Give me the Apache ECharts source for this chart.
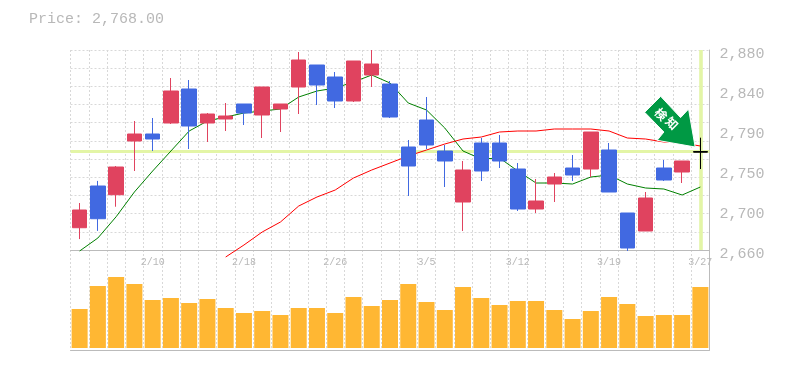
<!DOCTYPE html>
<html><head><meta charset="utf-8">
<style>html,body{margin:0;padding:0;background:#fff}#c{width:785px;height:370px}</style>
<script src="https://cdn.jsdelivr.net/npm/echarts@6/dist/echarts.min.js"></script>
</head><body><div id="c"></div>
<script>
const titleText = 'Price: 2,768.00';
const arrowText = ['検','知'];
const dateLabels = ['','','','','2/10','','','','','2/18','','','','','2/26','','','','','3/5','','','','','3/12','','','','','3/19','','','','','3/27'];
const priceTicks = ['2,660','2,700','2,750','2,790','2,840','2,880'];
const lastPrice = 2768;
const bandLevel = 2768.3;
const opens  = [2684.5,2730.4,2720.8,2779.9,2787.6,2799.7,2837.1,2799.7,2804.1,2820.6,2808.5,2815.1,2839.3,2863.5,2850.3,2823.9,2852.5,2842.6,2773.3,2803,2768.9,2712.8,2777.7,2777.7,2749.1,2705.1,2732.6,2750.2,2749.1,2770,2700.7,2680.9,2750.2,2745.8,2768];
const closes = [2704,2694.4,2751.3,2787.6,2782.1,2834.9,2796.4,2809.6,2807.4,2810.7,2839.3,2820.6,2869,2841.5,2823.9,2867.9,2864.6,2806.3,2752.4,2775.5,2757.9,2748,2746.9,2757.9,2705.1,2713.9,2740.3,2742.5,2789.8,2723.8,2662.2,2717.2,2737,2757.9,2768];
const lows   = [2672,2681,2707.6,2746.9,2768.9,2798.6,2771.1,2778.8,2790.9,2797.5,2783.2,2789.8,2809.6,2819.5,2816.2,2822.8,2839.3,2805.2,2719.4,2771.1,2729.3,2680.9,2735.9,2750.2,2702.9,2700.7,2712.8,2735.9,2740.3,2723.8,2658.9,2680.9,2735.9,2733.7,2749.1];
const highs  = [2711.7,2736,2752.4,2801.9,2805.2,2849.2,2847,2810.7,2821.7,2820.6,2839.3,2820.6,2877.8,2863.5,2855.8,2867.9,2880,2845.9,2781,2828.3,2775.5,2757.9,2783.2,2786.5,2755.7,2738.1,2744.7,2764.5,2789.8,2777.7,2700.7,2723.8,2759,2757.9,2783.4];
const shortAvg = [2658.9,2673.2,2696.6,2723.8,2746.9,2768.9,2790.9,2801.9,2806.3,2810.7,2812.9,2815.1,2828.3,2834.9,2838.2,2844.8,2852.5,2843.7,2821.7,2814,2794.2,2768.9,2760.1,2761.2,2746.9,2733.7,2733.7,2732.6,2740.3,2742.5,2732.6,2728.2,2727.1,2720.5,2729.3];
const longAvg = [null,null,null,null,null,null,null,null,2652.3,2665.5,2679.8,2690.8,2708.4,2718.3,2726,2739.2,2748,2755.7,2763.4,2770,2776.6,2782.1,2784.3,2789.8,2790.9,2790.9,2793.1,2793.1,2793.1,2790.9,2783.2,2782.1,2778.8,2777.7,2774.4];
const volumes = [39,62,71,64,48,50,45,49,40,35,37,33,40,40,35,51,42,48,64,46,38,61,50,43,47,47,38,29,37,51,44,32,33,33,61];

const gridC = '#d8d8d8', axisC = '#bbb', textC = '#b8b8b8', mono = '"Liberation Mono", monospace';
const band = '#e3f5a6';
const chart = echarts.init(document.getElementById('c'), null, {renderer:'canvas'});
const split = {show:true, interval:0, lineStyle:{color:gridC, type:[2,2], width:1}};
const candleData = opens.map((o,i)=>{
  const item = {value:[o,closes[i],lows[i],highs[i]]};
  if (o === closes[i]) item.itemStyle = {borderColorDoji:'#000', borderColor:'#000', borderColor0:'#000'};
  return item;
});
chart.setOption({
  animation:false,
  backgroundColor:'#fff',
  title:{text:titleText, left:24, top:7, textStyle:{fontFamily:mono, fontSize:15, fontWeight:'normal', color:textC}},
  grid:[
    {left:70.5, top:50, width:639, height:200},
    {left:70.5, top:250, width:639, height:100},
    {left:70.5, top:54, width:639, height:200}
  ],
  xAxis:[
    {type:'category', gridIndex:0, data:dateLabels, axisLine:{lineStyle:{color:axisC,width:1}}, axisTick:{show:false},
     axisLabel:{interval:0, hideOverlap:false, color:textC, fontFamily:mono, fontSize:10, margin:7}, splitLine:split},
    {type:'category', gridIndex:1, data:dateLabels, axisLine:{onZero:false, lineStyle:{color:axisC,width:1}}, axisTick:{show:false},
     axisLabel:{show:false}, splitLine:split},
    {type:'category', gridIndex:2, data:dateLabels, show:false}
  ],
  yAxis:[
    {type:'value', gridIndex:0, position:'right', min:2660, max:2880, interval:20,
     axisLine:{show:true, lineStyle:{color:axisC,width:1}}, axisTick:{show:false}, axisLabel:{show:false}, splitLine:{show:true, lineStyle:{color:gridC, type:[2,2], width:1}}},
    {type:'value', gridIndex:2, position:'right', min:0, max:priceTicks.length-1, interval:1,
     axisLine:{show:false}, axisTick:{show:false}, splitLine:{show:false},
     axisLabel:{color:textC, fontFamily:mono, fontSize:15, margin:10, formatter:v=>priceTicks[v]}},
    {type:'value', gridIndex:1, position:'right', min:-2, max:98,
     axisLine:{show:true, lineStyle:{color:axisC,width:1}}, axisTick:{show:false}, axisLabel:{show:false}, splitLine:{show:false}}
  ],
  series:[
    {type:'line', xAxisIndex:0, yAxisIndex:0, data:[], z:1, silent:true,
     markLine:{silent:true, symbol:'none', z:1, label:{show:false}, animation:false,
       lineStyle:{color:band, width:3, type:'solid'},
       data:[{yAxis:bandLevel},{xAxis:dateLabels.length-1, lineStyle:{color:band, width:3.6, type:'solid'}}]}},
    {type:'bar', xAxisIndex:1, yAxisIndex:2, data:volumes, barWidth:16, itemStyle:{color:'#ffb733'}, z:2},
    {type:'line', xAxisIndex:0, yAxisIndex:0, data:shortAvg, showSymbol:false, clip:false, z:2, lineStyle:{color:'#008000',width:1}},
    {type:'line', xAxisIndex:0, yAxisIndex:0, data:longAvg, showSymbol:false, clip:false, z:2, lineStyle:{color:'#ff0000',width:1}},
    {type:'candlestick', xAxisIndex:0, yAxisIndex:0, data:candleData, barWidth:15, clip:false, z:3,
     itemStyle:{color:'#e0435f', color0:'#4169e1', borderColor:'#e0435f', borderColor0:'#4169e1', borderWidth:1}},
    {type:'custom', xAxisIndex:0, yAxisIndex:0, z:4, clip:false, silent:true,
     data:[[dateLabels.length-1,lastPrice]],
     renderItem:(p,api)=>{
       const c = api.coord([api.value(0),api.value(1)]);
       const pts = [[-39.7,-55.5],[-55.7,-39.5],[-36.5,-19.8],[-43.2,-11.5],[-5.2,-4.8],[-11.8,-42.8],[-19.8,-34.2]];
       const t = (s,dx,dy)=>({type:'text', x:c[0]+dx, y:c[1]+dy, rotation:-Math.PI/4,
         style:{text:s, fill:'#fff', font:'bold 12px "Noto Sans CJK JP"', align:'center', verticalAlign:'middle'}});
       return {type:'group', children:[
         {type:'polygon', shape:{points:pts.map(q=>[c[0]+q[0],c[1]+q[1]])}, style:{fill:'#009944', stroke:'#fff', lineWidth:1}},
         t(arrowText[0],-39.5,-37.5), t(arrowText[1],-28.5,-28.5)
       ]};
     }},
    {type:'candlestick', xAxisIndex:0, yAxisIndex:0, barWidth:15, clip:false, z:5,
     data:candleData.map((d,i)=>i===candleData.length-1?d:[null,null,null,null]),
     itemStyle:{borderWidth:1}}
  ]
});
</script></body></html>
